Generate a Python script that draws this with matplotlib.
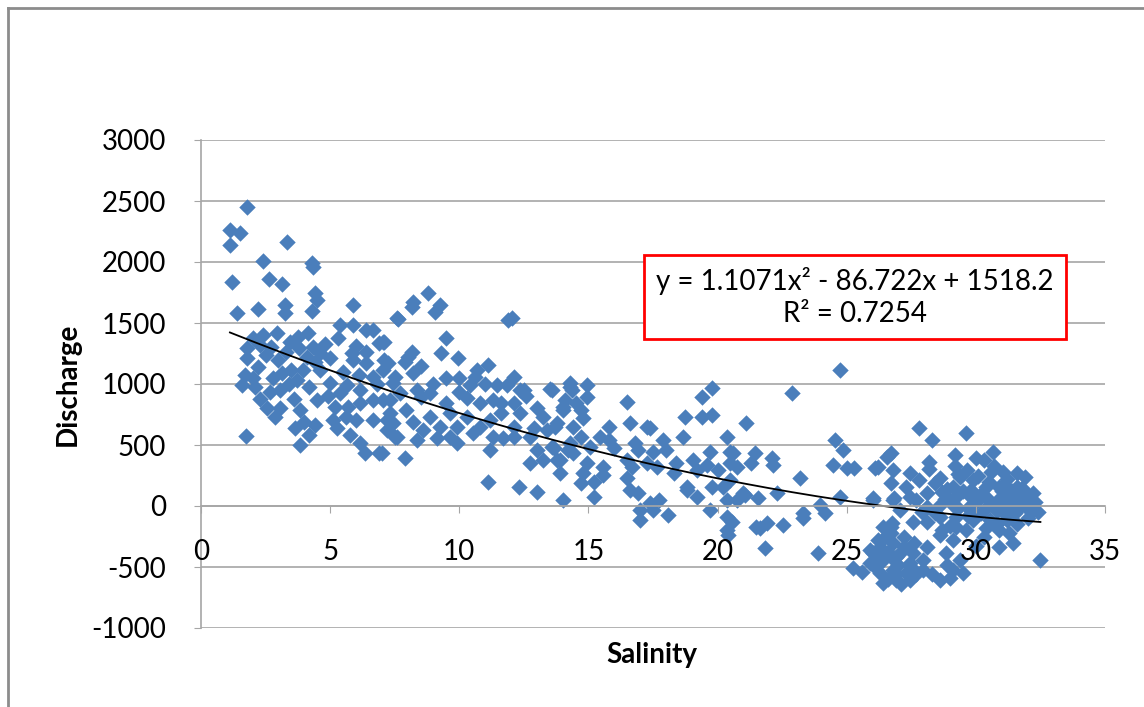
import matplotlib
matplotlib.use("Agg")
import matplotlib.pyplot as plt
import numpy as np
from matplotlib.lines import Line2D

# ---- data ----
salinity = [
    1.78, 1.12, 1.5, 1.12, 3.33, 2.4, 4.3, 4.35, 1.2, 2.63, 3.13, 4.4, 4.5, 1.4, 2.2, 3.25, 3.25, 4.3, 5.9,
    5.4, 5.9, 6.4, 6.65, 7.05, 7.6, 1.74, 3.83,
    2.0, 2.4, 2.95, 1.8, 1.8, 2.5, 2.2, 1.7, 2.0, 1.6, 2.1, 3.45, 3.75, 4.15, 3.8, 4.35, 4.6, 4.1, 5.0,
    3.15, 3.5, 3.95, 4.6, 4.2, 5.0, 2.67, 3.05, 4.5, 2.55, 3.05, 2.85, 3.83, 3.65, 4.0, 4.4, 4.2, 5.3,
    5.85, 5.9, 6.4, 6.4, 6.9, 7.1, 6.65, 6.1, 5.65, 6.15, 5.2, 5.7, 6.15, 6.65, 5.1, 5.6, 6.0, 6.65, 7.2,
    5.25, 5.77, 6.15, 6.35, 6.9, 7.5, 7.45, 7.3,
    2.3, 2.7, 3.0, 3.3, 2.8, 3.4, 3.7, 4.4, 4.8, 5.5, 6.0, 6.8, 4.9, 5.4, 2.3, 3.6,
    8.8, 8.2, 8.17, 9.25, 9.05, 7.63, 11.9, 12.05, 9.5, 7.1, 9.3, 9.95, 8.15, 7.25, 7.9, 11.1, 10.7, 7.05,
    7.5, 8.2, 9.5, 10.0, 10.6, 12.1, 11.85, 11.45, 13.6, 14.3, 14.35, 8.87, 10.0, 10.3, 11.3, 12.35, 7.7,
    7.05, 8.35, 8.5, 9.5, 10.8, 11.6, 12.1, 12.35, 11.6, 14.0, 7.3, 7.95, 8.85, 9.65, 10.3, 11.2, 7.45,
    8.2, 9.25, 9.9, 10.8, 12.1, 13.25, 13.4, 7.2, 8.6, 9.65, 10.55, 11.3, 12.75, 7.6, 8.35, 9.15, 9.9,
    11.2, 12.1, 13.0, 13.6, 14.3, 7.0, 7.9, 12.75, 13.25, 13.9, 14.4,
    11.1, 12.3, 13.0, 14.0, 13.5, 12.5,
    8.0, 8.5, 9.0, 10.4, 11.0, 12.6, 13.0, 13.8, 12.9, 11.7,
    14.3, 14.95, 14.95, 14.1, 14.5, 16.5, 14.0, 14.7, 14.8, 13.7, 14.4, 15.8, 16.6, 17.25, 17.4, 19.4,
    19.8, 18.75, 19.4, 19.8, 21.1, 14.7, 15.45, 15.8, 16.8, 17.9, 18.65, 20.35, 13.65, 14.2, 15.05, 16.0,
    16.9, 17.5, 18.0, 19.7, 20.5, 13.8, 14.95, 15.55, 16.5, 17.25, 18.4, 19.05, 19.6, 20.5, 13.9, 14.8,
    15.55, 16.7, 17.65, 18.3, 19.2, 20.0, 20.75, 14.7, 15.2, 16.5, 18.8, 19.8, 20.2, 20.5, 15.2, 16.6,
    16.9, 17.4, 17.75, 18.8, 19.2, 20.35, 20.75, 21.0, 17.0, 17.5, 18.1, 17.0, 19.7, 20.35, 20.55, 20.35,
    20.4, 20.6, 21.3, 21.5,
    24.75, 22.9, 27.8, 24.55, 24.85, 21.45, 22.1, 22.15, 24.45, 25.0, 25.3, 26.2, 26.55, 23.2, 21.05,
    21.55, 22.3, 24.75, 26.0, 26.85, 23.95, 24.15, 23.3, 23.3, 22.55, 21.65, 21.9, 21.85, 23.9, 26.75,
    26.7, 25.25, 25.6, 26.0,
    28.3, 29.6, 26.7, 26.1, 26.8, 27.45, 28.2, 29.2, 30.0, 30.65, 30.3, 29.65, 31.05, 31.6, 26.7, 27.3,
    27.8, 28.4, 28.6, 29.1, 29.9, 30.4, 30.9, 31.6, 26.0, 27.45, 28.1, 28.7, 29.25, 29.75, 30.4, 31.05,
    31.7, 32.2, 31.95, 27.05, 26.8, 28.6, 29.1, 29.75, 30.4, 31.05, 31.45, 28.1, 27.55, 28.1, 28.6, 29.25,
    29.9, 30.55, 31.2, 26.7, 28.6, 29.25, 30.9, 31.3, 31.45, 30.9, 32.5, 29.1, 28.85, 29.4, 29.1, 28.6,
    29.0, 29.5, 28.1, 27.95,
    25.9, 26.3, 26.8, 27.2, 27.55, 25.9, 26.4, 26.9, 27.45, 27.95, 26.3, 26.8, 27.3, 26.4, 26.9, 27.45,
    26.4, 26.1, 26.6, 27.0, 27.7, 26.6, 27.1, 26.2, 27.6, 26.5, 27.2, 28.3, 28.9,
    29.0, 29.5, 30.0, 30.2, 30.6, 31.0, 31.3, 31.8, 32.0, 30.8, 29.8, 29.3, 28.9, 30.1, 30.5, 31.2, 31.9,
    32.3, 32.4, 31.5, 30.3, 29.6, 29.0, 28.4, 28.8, 30.7, 31.1, 29.4, 28.2, 27.7, 27.9, 31.6, 30.0, 29.8,
    30.9, 31.4, 32.1, 32.0, 29.2, 30.4,
    29.7, 30.2, 30.8, 31.3, 31.8, 29.3, 30.6, 31.1, 32.2, 28.7, 26.7, 27.1, 26.3, 27.5, 26.9,
]
discharge = [
    2450, 2260, 2240, 2140, 2165, 2010, 1990, 1960, 1840, 1860, 1820, 1750, 1690, 1580, 1615, 1650, 1580, 1600, 1650,
    1480, 1480, 1440, 1440, 1345, 1540, 575, 500,
    1375, 1400, 1420, 1295, 1210, 1240, 1140, 1075, 1050, 990, 975, 1345, 1385, 1420, 1295, 1305, 1255, 1220, 1210,
    1090, 1115, 1115, 1115, 975, 1010, 935, 950, 870, 800, 800, 730, 785, 640, 690, 665, 580, 1375,
    1255, 1200, 1260, 1170, 1335, 1200, 1060, 1075, 990, 950, 810, 810, 845, 870, 705, 730, 705, 705, 705,
    640, 580, 515, 435, 435, 565, 1010, 870,
    1320, 1300, 1200, 1260, 1050, 1000, 1030, 1180, 1330, 1100, 1310, 1000, 900, 930, 880, 880,
    1745, 1670, 1630, 1650, 1590, 1530, 1525, 1540, 1375, 1345, 1255, 1210, 1260, 1170, 1180, 1155, 1115, 1115,
    1060, 1090, 1050, 1050, 1060, 1060, 990, 990, 950, 1010, 950, 925, 935, 885, 870, 950, 925,
    870, 950, 895, 845, 845, 845, 845, 760, 760, 810, 760, 785, 730, 760, 730, 705, 680,
    690, 650, 650, 650, 650, 730, 625, 625, 625, 565, 600, 565, 565, 565, 540, 555, 515,
    460, 565, 460, 485, 515, 435, 395, 350, 375, 375, 435,
    195, 155, 115, 50, 960, 950,
    1220, 1150, 1000, 990, 1000, 900, 800, 680, 640, 560,
    975, 990, 895, 870, 845, 850, 785, 785, 720, 650, 650, 650, 680, 650, 640, 895,
    965, 730, 730, 745, 680, 565, 565, 540, 515, 540, 565, 565, 475, 460, 485, 475,
    460, 445, 460, 445, 445, 375, 350, 320, 375, 350, 350, 375, 335, 350, 270, 270,
    255, 320, 320, 270, 295, 295, 320, 190, 200, 230, 155, 155, 155, 215, 75, 130,
    105, 25, 50, 130, 75, 50, 50, 105, -35, -35, -75, -115, -35, -90, -130, -195,
    -240, 435, 350, -170,
    1115, 925, 640, 540, 460, 435, 395, 335, 335, 310, 310, 320, 400, 230, 90,
    65, 105, 75, 50, 65, 10, -55, -55, -100, -155, -180, -140, -345, -385, -140,
    -220, -510, -540, -385,
    540, 600, 435, 310, 295, 270, 360, 415, 395, 440, 375, 295, 280, 270, 190, 155,
    215, 190, 230, 155, 215, 155, 155, 155, 65, 75, 105, 115, 75, 90, 75, 75,
    65, -35, -10, -35, 50, 10, 10, -10, -15, -35, -10, -10, -130, -130, -90, -90,
    -115, -115, -115, -170, -240, -170, -195, -220, -300, -335, -440, -280, -385, -440, -525, -605,
    -590, -550, -335, -440,
    -360, -335, -300, -335, -385, -470, -440, -420, -470, -525, -550, -525, -550, -630, -605, -605,
    -170, -500, -380, -480, -560, -600, -640, -280, -300, -250, -250, -560, -480,
    50, 120, 30, -60, 20, 120, 40, 10, 90, -150, -40, -20, 140, 250, 200, 220, 240,
    30, -50, -60, -250, -200, -160, -60, 60, 330, 180, 240, 300, 50, -50, -150, -330, 130,
    60, 120, -20, -100, 330, -180,
    -80, 100, -40, 30, 150, 260, 280, -60, 110, -200, -420, -380, -430, -500, -560,
]
trend_coef = [1.1071, -86.722, 1518.2]   # quadratic trendline y = a x^2 + b x + c
equation_text = "y = 1.1071x\u00b2 - 86.722x + 1518.2\nR\u00b2 = 0.7254"
x_ticks = [0, 5, 10, 15, 20, 25, 30, 35]
y_ticks = [-1000, -500, 0, 500, 1000, 1500, 2000, 2500, 3000]

# ---- style ----
FONT = ["Lato", "DejaVu Sans"]
plt.rcParams["font.family"] = FONT
BLUE = "#4A7EBB"
GRID = "#A6A6A6"

fig = plt.figure(figsize=(11.44, 7.07), dpi=100)
ax = fig.add_axes([201/1144, 1-628/707, (1105-201)/1144, (628-140)/707])

ax.scatter(salinity, discharge, marker="D", s=70, color=BLUE, linewidths=0, zorder=3)

xs = np.linspace(min(salinity), max(salinity), 200)
ax.plot(xs, np.polyval(trend_coef, xs), color="black", lw=1.3, zorder=4)

ax.set_xlim(0, 35)
ax.set_ylim(-1000, 3000)
ax.set_xticks(x_ticks)
ax.set_yticks(y_ticks)
ax.set_xticklabels([str(t) for t in x_ticks])
ax.set_yticklabels([str(t) for t in y_ticks])

for s in ("top", "right"):
    ax.spines[s].set_visible(False)
ax.spines["left"].set_color(GRID)
ax.spines["left"].set_linewidth(1.2)
ax.spines["bottom"].set_position(("data", 0))
ax.spines["bottom"].set_color(GRID)
ax.spines["bottom"].set_linewidth(1.2)
ax.spines["bottom"].set_zorder(5)

ax.yaxis.grid(True, color=GRID, lw=1.2)
ax.set_axisbelow(True)
ax.tick_params(axis="y", direction="out", length=5, color=GRID, labelsize=20, pad=20)
ax.tick_params(axis="x", direction="out", length=5, color=GRID, labelsize=20, pad=19)
for lbl in ax.get_xticklabels():
    lbl.set_zorder(6)
ax.xaxis.set_zorder(6)

fig.text(68/1144, 1-384/707, "Discharge", rotation=90, ha="center", va="center",
         fontsize=20, fontweight="bold")
fig.text(652/1144, 1-655/707, "Salinity", ha="center", va="center",
         fontsize=20, fontweight="bold")

ax.text(855/1144, 1-297/707, equation_text, transform=fig.transFigure, ha="center", va="center",
        fontsize=20, linespacing=1.25, zorder=7,
        bbox=dict(boxstyle="square,pad=0.45", facecolor="white", edgecolor="#FF0000", linewidth=2))

# outer chart frame (top and left edges visible)
fig.add_artist(Line2D([8/1144, 8/1144], [0, 1-8/707], transform=fig.transFigure, color="#8C8C8C", lw=2))
fig.add_artist(Line2D([8/1144, 1], [1-8/707, 1-8/707], transform=fig.transFigure, color="#8C8C8C", lw=2))

fig.savefig("out.png", dpi=100)
